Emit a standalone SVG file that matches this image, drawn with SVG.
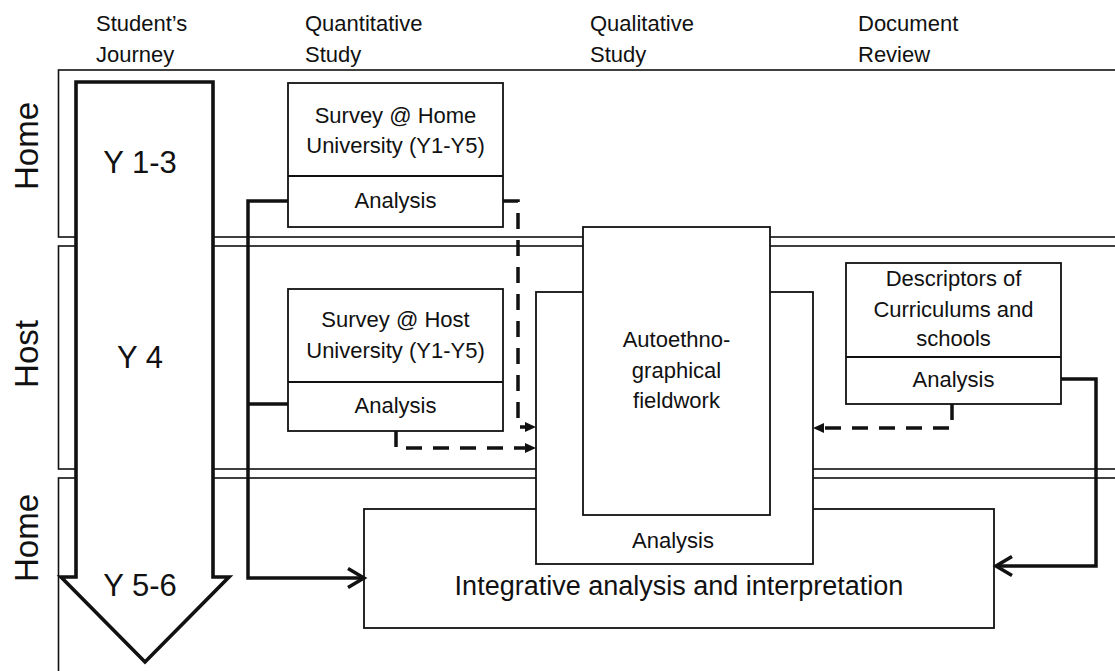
<svg xmlns="http://www.w3.org/2000/svg" width="1115" height="671" viewBox="0 0 1115 671">
  <style>
    text { font-family: "Liberation Sans", Arial, sans-serif; fill: #111; }
    .hdr { font-size: 22px; }
    .lane-label { font-size: 33px; text-anchor: middle; }
    .lane { fill: #fff; stroke: #111; stroke-width: 1.6; }
    .box { fill: #fff; stroke: #111; stroke-width: 1.8; }
    .bt { font-size: 22px; text-anchor: middle; }
    .year { font-size: 31px; text-anchor: middle; }
    .journey { fill: #fff; stroke: #111; stroke-width: 3.6; stroke-linejoin: miter; }
    .solid { fill: none; stroke: #111; stroke-width: 3.5; }
    .dash { fill: none; stroke: #111; stroke-width: 3.5; stroke-dasharray: 16 11; }
  </style>
  <defs>
    <marker id="chevron" markerUnits="userSpaceOnUse" markerWidth="22" markerHeight="24" refX="17" refY="10" orient="auto" overflow="visible">
      <path d="M1,0.5 L17,10 L1,19.5" fill="none" stroke="#111" stroke-width="3.5"/>
    </marker>
    <marker id="tri" markerUnits="userSpaceOnUse" markerWidth="14" markerHeight="12" refX="0" refY="5" orient="auto" overflow="visible">
      <path d="M0,0 L11,5 L0,10 Z" fill="#111"/>
    </marker>
  </defs>

  <!-- column headings -->
  <g id="headings">
    <text class="hdr" x="96" y="31">Student’s</text>
    <text class="hdr" x="96" y="62">Journey</text>
    <text class="hdr" x="305" y="31">Quantitative</text>
    <text class="hdr" x="305" y="62">Study</text>
    <text class="hdr" x="590" y="31">Qualitative</text>
    <text class="hdr" x="590" y="62">Study</text>
    <text class="hdr" x="858" y="31">Document</text>
    <text class="hdr" x="858" y="62">Review</text>
  </g>

  <!-- swimlanes -->
  <g id="lane-home-1">
    <rect class="lane" x="58.5" y="70" width="1100" height="167"/>
    <text class="lane-label" transform="translate(38,146) rotate(-90)">Home</text>
  </g>
  <g id="lane-host">
    <rect class="lane" x="58.5" y="246" width="1100" height="223"/>
    <text class="lane-label" transform="translate(38,354) rotate(-90)">Host</text>
  </g>
  <g id="lane-home-2">
    <rect class="lane" x="58.5" y="478" width="1100" height="260"/>
    <text class="lane-label" transform="translate(38,538) rotate(-90)">Home</text>
  </g>

  <!-- student's journey arrow -->
  <g id="journey">
    <polygon class="journey" points="76,82 213,82 213,577 229,577 145,662 61,577 76,577"/>
    <text class="year" x="140" y="173">Y 1-3</text>
    <text class="year" x="140" y="368">Y 4</text>
    <text class="year" x="140" y="596">Y 5-6</text>
  </g>

  <!-- integrative analysis -->
  <g id="integrative">
    <rect class="box" x="364" y="509" width="630" height="119"/>
    <text x="679" y="595" font-size="27" text-anchor="middle">Integrative analysis and interpretation</text>
  </g>

  <!-- qualitative study: fieldwork with its analysis frame -->
  <g id="qual-analysis">
    <rect class="box" x="536" y="292" width="277" height="272"/>
    <text class="bt" x="673" y="548">Analysis</text>
  </g>
  <g id="fieldwork">
    <rect class="box" x="583" y="227" width="187" height="288"/>
    <text class="bt" x="676.5" y="347">Autoethno-</text>
    <text class="bt" x="676.5" y="378">graphical</text>
    <text class="bt" x="676.5" y="408">fieldwork</text>
  </g>

  <!-- quantitative surveys -->
  <g id="survey-home">
    <rect class="box" x="288" y="83" width="215" height="144"/>
    <line class="box" x1="288" y1="176" x2="503" y2="176"/>
    <text class="bt" x="395.5" y="123">Survey @ Home</text>
    <text class="bt" x="395.5" y="153">University (Y1-Y5)</text>
    <text class="bt" x="395.5" y="208">Analysis</text>
  </g>
  <g id="survey-host">
    <rect class="box" x="288" y="289" width="215" height="142"/>
    <line class="box" x1="288" y1="382" x2="503" y2="382"/>
    <text class="bt" x="395.5" y="327">Survey @ Host</text>
    <text class="bt" x="395.5" y="358">University (Y1-Y5)</text>
    <text class="bt" x="395.5" y="413">Analysis</text>
  </g>

  <!-- document review -->
  <g id="descriptors">
    <rect class="box" x="846" y="263" width="215" height="141"/>
    <line class="box" x1="846" y1="357" x2="1061" y2="357"/>
    <text class="bt" x="953.5" y="286">Descriptors of</text>
    <text class="bt" x="953.5" y="317">Curriculums and</text>
    <text class="bt" x="953.5" y="346">schools</text>
    <text class="bt" x="953.5" y="387">Analysis</text>
  </g>

  <!-- connectors -->
  <g id="connectors">
    <path class="solid" d="M288,201 H248 V578 H364" marker-end="url(#chevron)"/>
    <path class="solid" d="M288,404 H248"/>
    <path class="solid" d="M1061,379 H1096 V566 H996" marker-end="url(#chevron)"/>
    <path class="dash" d="M503,201 H518 V427 H525" marker-end="url(#tri)"/>
    <path class="dash" d="M396,431 V448 H525" marker-end="url(#tri)"/>
    <path class="dash" d="M952,404 V428 H824" marker-end="url(#tri)"/>
  </g>
</svg>
